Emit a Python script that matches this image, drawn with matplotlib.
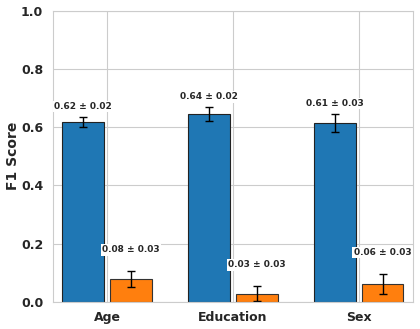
import matplotlib
matplotlib.use("Agg")
import matplotlib.pyplot as plt
import numpy as np
import seaborn as sns

categories = ["Age", "Education", "Sex"]
blue_means = [0.617, 0.645, 0.615]
blue_errs = [0.018, 0.024, 0.030]
blue_labels = ["0.62 ± 0.02", "0.64 ± 0.02", "0.61 ± 0.03"]
orange_means = [0.078, 0.028, 0.062]
orange_errs = [0.027, 0.026, 0.034]
orange_labels = ["0.08 ± 0.03", "0.03 ± 0.03", "0.06 ± 0.03"]

sns.set_style("whitegrid")
plt.rcParams["font.family"] = ["DejaVu Sans"]

fig = plt.figure(figsize=(4.2, 3.29), dpi=100)
ax = fig.add_axes([0.126, 0.083, 0.857, 0.884])

x = np.arange(len(categories))
w = 0.33
off = 0.19

ax.bar(x - off, blue_means, w, yerr=blue_errs, color="#1f77b4", edgecolor="#222222",
       linewidth=0.8, capsize=3, error_kw=dict(elinewidth=1, capthick=1, ecolor="black"))
ax.bar(x + off, orange_means, w, yerr=orange_errs, color="#ff7f0e", edgecolor="#333333",
       linewidth=0.8, capsize=3, error_kw=dict(elinewidth=1, capthick=1, ecolor="black"))

for i in range(len(categories)):
    ax.text(x[i] - off, blue_means[i] + blue_errs[i] + 0.036, blue_labels[i],
            ha="center", va="center", fontsize=6.5, fontweight="bold", color="#262626",
            bbox=dict(facecolor="white", edgecolor="none", pad=1))
    ax.text(x[i] + off, orange_means[i] + orange_errs[i] + 0.073, orange_labels[i],
            ha="center", va="center", fontsize=6.5, fontweight="bold", color="#262626",
            bbox=dict(facecolor="white", edgecolor="none", pad=1))

ax.set_xlim(-0.43, 2.43)
ax.set_ylim(0, 1.0)
ax.set_xticks(x)
ax.set_xticklabels(categories, fontsize=9, fontweight="bold", color="#262626")
ax.set_yticks([0, 0.2, 0.4, 0.6, 0.8, 1.0])
ax.set_yticklabels(["0.0", "0.2", "0.4", "0.6", "0.8", "1.0"], fontsize=9,
                   fontweight="bold", color="#262626")
ax.set_ylabel("F1 Score", fontsize=10, fontweight="bold", color="#262626", labelpad=1)

fig.savefig("out.png", dpi=100)
